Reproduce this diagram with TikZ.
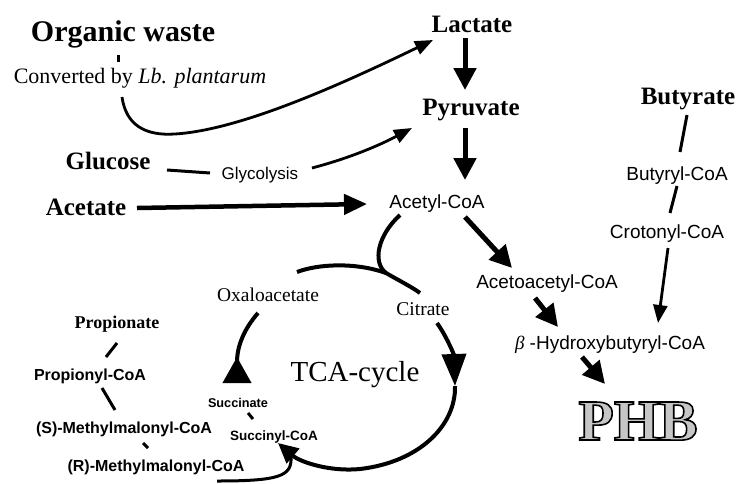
\documentclass[tikz,border=0pt]{standalone}
\usepackage{fontspec}
\setmainfont{Liberation Serif}
\newfontfamily\lsans{Liberation Sans}
\usetikzlibrary{arrows.meta}
\begin{document}
\begin{tikzpicture}[x=1pt,y=-1pt,
  lbl/.style={inner sep=0pt, anchor=base},
  orgf/.style={lbl, font=\fontsize{30}{30}\selectfont\bfseries},
  bigb/.style={lbl, font=\fontsize{25}{25}\selectfont\bfseries},
  conv/.style={lbl, font=\fontsize{22}{22}\selectfont},
  sanl/.style={lbl, font=\fontsize{19}{19}\selectfont\lsans},
  glyf/.style={lbl, font=\fontsize{17}{17}\selectfont\lsans},
  serl/.style={lbl, font=\fontsize{19.5}{19.5}\selectfont},
  tcaf/.style={lbl, font=\fontsize{29}{29}\selectfont},
  propf/.style={lbl, font=\fontsize{18}{18}\selectfont\bfseries},
  sbold/.style={lbl, font=\fontsize{16}{16}\selectfont\lsans\bfseries},
  succf/.style={lbl, font=\fontsize{12.7}{12.7}\selectfont\lsans\bfseries},
  phbf/.style={lbl, font=\fontsize{58}{58}\selectfont\bfseries},
  thickarr/.style={line width=5pt, -{Triangle[length=22pt,width=22pt]}},
  acearr/.style={line width=4.5pt, -{Triangle[length=23pt,width=20pt]}},
  thinarr/.style={line width=2.8pt, -{Triangle[length=18pt,width=14pt]}},
  plain/.style={line width=3pt},
  cyc/.style={line width=4pt},
]
\useasboundingbox (0,0) rectangle (742,483);

% ---- labels ----
\node[orgf] (org) at (123,41) {Organic waste};
\node[conv] (conv) at (140,83) {Converted by \textit{Lb. plantarum}};
\node[bigb] (lac) at (472,32) {Lactate};
\node[bigb] (pyr) at (471,115) {Pyruvate};
\node[bigb] (glc) at (108,169) {Glucose};
\node[glyf] (gly) at (260,179) {Glycolysis};
\node[bigb] (ace) at (86,215) {Acetate};
\node[sanl] (acoa) at (437,208) {Acetyl-CoA};
\node[bigb] (but) at (688,104) {Butyrate};
\node[sanl] (bcoa) at (677,180) {Butyryl-CoA};
\node[sanl] (ccoa) at (667,238) {Crotonyl-CoA};
\node[sanl] (aacoa) at (547,288) {Acetoacetyl-CoA};
\node[sanl] (hb) at (610,349) {{\itshape\rmfamily β} -Hydroxybutyryl-CoA};
\node[serl] (oxa) at (268,301) {Oxaloacetate};
\node[serl] (cit) at (423,315) {Citrate};
\node[tcaf] (tca) at (355,381) {TCA-cycle};
\node[succf] (suc) at (238,407) {Succinate};
\node[succf, font=\fontsize{13.5}{13.5}\selectfont\lsans\bfseries] (scoa) at (274,440) {Succinyl-CoA};
\node[propf] (prop) at (117,328) {Propionate};
\node[sbold] (pcoa) at (90,380) {Propionyl-CoA};
\node[sbold] (smm) at (124,433) {(S)-Methylmalonyl-CoA};
\node[sbold] (rmm) at (156,471) {(R)-Methylmalonyl-CoA};

% PHB: outlined letters (fill light grey, stroke black)
\node[phbf] (phb) at (638,440) {\color{gray!45}\special{pdf:literal direct 2 Tr 1.6 w 0 G}PHB\special{pdf:literal direct 0 Tr}};

% ---- coordinates for connector ends ----
\coordinate (orgT1) at (118,55);
\coordinate (orgT2) at (118,62);
\coordinate (owS) at (122,97);
\coordinate (lacIn) at (433,40);
\coordinate (lacOut) at (465,38);
\coordinate (pyrIn) at (465,90);
\coordinate (pyrOut) at (465,128);
\coordinate (acoaIn) at (465,180);
\coordinate (glcA) at (167,170);
\coordinate (glcB) at (210,173);
\coordinate (glyOut) at (312,168);
\coordinate (pyrL) at (412,128);
\coordinate (aceOut) at (137,208);
\coordinate (acoaL) at (367,204);
\coordinate (acoaR) at (465,217);
\coordinate (aacoaIn) at (512,268);
\coordinate (aacoaOut) at (535,298);
\coordinate (hbIn) at (558,327);
\coordinate (hbOut) at (582,357);
\coordinate (phbIn) at (605,384);
\coordinate (butOut) at (687,115);
\coordinate (bcoaIn) at (680,152);
\coordinate (bcoaOut) at (677,186);
\coordinate (ccoaIn) at (670,213);
\coordinate (ccoaOut) at (668,248);
\coordinate (hbR) at (658,323);
\coordinate (acoaD) at (400,215);
\coordinate (junc) at (386,273);
\coordinate (oxaR) at (297,272);
\coordinate (citT) at (420,293);
\coordinate (citB) at (437,323);
\coordinate (rArr) at (455,386);
\coordinate (scoaIn) at (278,443);
\coordinate (sucT) at (237,383);
\coordinate (oxaB) at (258,313);
\coordinate (sucA) at (248,413);
\coordinate (sucB) at (253,419);
\coordinate (propA) at (117,343);
\coordinate (propB) at (106,357);
\coordinate (pcoaA) at (102,388);
\coordinate (pcoaB) at (115,410);
\coordinate (smmA) at (143,443);
\coordinate (smmB) at (148,448);
\coordinate (rmmOut) at (217,481);
\coordinate (rmmIn) at (291,457);

% ---- connectors ----
\draw[plain] (orgT1) -- (orgT2);
\draw[thinarr] (owS) .. controls (126,125) and (145,136) .. (175,134)
   .. controls (240,130) and (340,85) .. (lacIn);
\draw[thickarr] (lacOut) -- (pyrIn);
\draw[thickarr] (pyrOut) -- (acoaIn);
\draw[plain] (glcA) -- (glcB);
\draw[thinarr] (glyOut) .. controls (350,158) and (380,145) .. (pyrL);
\draw[acearr] (aceOut) -- (acoaL);
\draw[thickarr] (acoaR) -- (aacoaIn);
\draw[thickarr] (aacoaOut) -- (hbIn);
\draw[thickarr] (hbOut) -- (phbIn);
\draw[plain] (butOut) -- (bcoaIn);
\draw[plain] (bcoaOut) -- (ccoaIn);
\draw[thinarr] (ccoaOut) -- (hbR);

% TCA cycle
\draw[cyc] (oxaR) .. controls (318,264) and (355,262) .. (junc)
   .. controls (398,280) and (412,287) .. (citT);
\draw[cyc] (acoaD) .. controls (378,235) and (372,262) .. (junc);
\draw[cyc, -{Triangle[length=32pt,width=24pt]}] (citB) .. controls (447,337) and (454,355) .. (rArr);
\draw[cyc, -{Triangle[length=20pt,width=19pt]}] (rArr) .. controls (456,425) and (420,462) .. (360,469)
   .. controls (330,472) and (300,462) .. (scoaIn);
\draw[cyc, {Triangle[reversed,length=26pt,width=28pt]}-] (sucT) .. controls (237,345) and (245,328) .. (oxaB);
\draw[plain] (sucA) -- (sucB);
\draw[plain] (propA) -- (propB);
\draw[plain] (pcoaA) -- (pcoaB);
\draw[plain] (smmA) -- (smmB);
\draw[plain] (rmmOut) .. controls (280,481) and (292,476) .. (rmmIn);
\end{tikzpicture}
\end{document}
